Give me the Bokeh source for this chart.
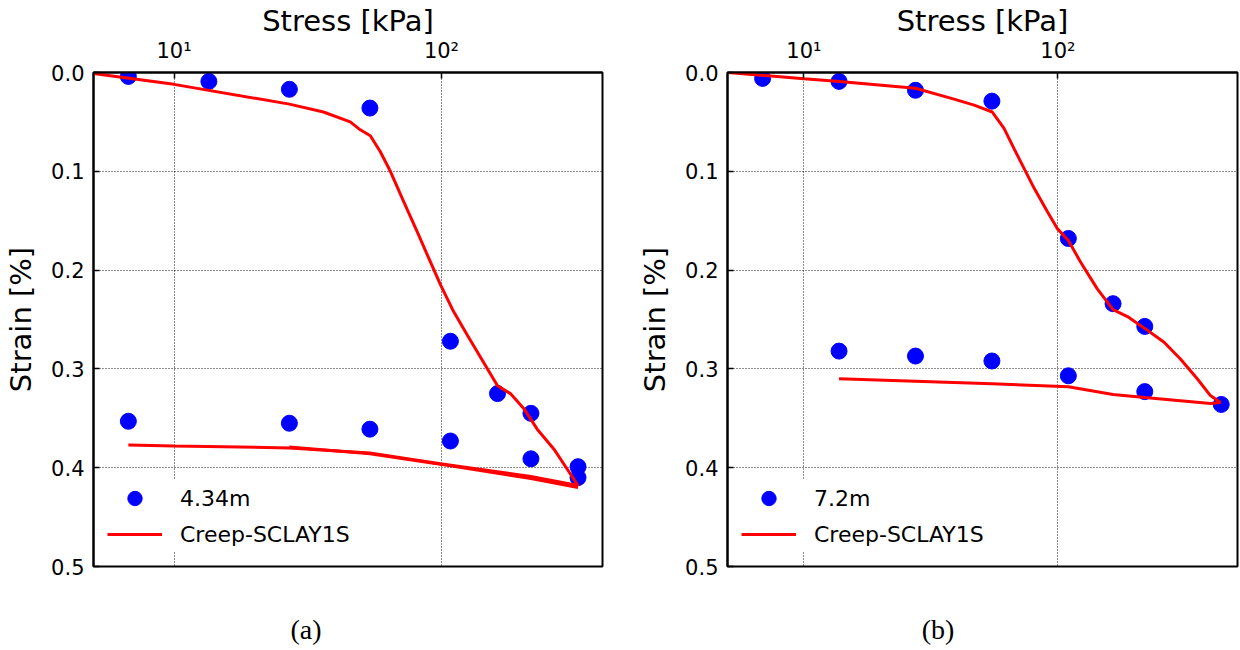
from bokeh.plotting import figure
from bokeh.models import Range1d, FixedTicker, PrintfTickFormatter, Div
from bokeh.layouts import row, column
from bokeh.embed import file_html
from bokeh.resources import INLINE

# ---------------- data: panel (a) 4.34 m ----------------
stress_a_load = [6.75, 13.5, 27, 54, 108, 162, 216, 324]
strain_a_load = [0.004, 0.009, 0.017, 0.036, 0.272, 0.325, 0.345, 0.410]
stress_a_unload = [324, 216, 108, 54, 27, 6.75]
strain_a_unload = [0.399, 0.391, 0.373, 0.361, 0.355, 0.353]

model_a_stress = [5.0, 10, 27, 36.2, 45.6, 49.7, 54.2, 59.0, 64.4, 72.3, 81.1, 91.0,
                  99.2, 111, 125, 162, 181, 203, 228, 263, 324,
                  216, 162, 99, 54, 27, 10, 6.75]
model_a_strain = [0.001, 0.012, 0.032, 0.040, 0.050, 0.058, 0.064, 0.080, 0.100, 0.131,
                  0.161, 0.192, 0.215, 0.242, 0.266, 0.317, 0.325, 0.340, 0.361, 0.381,
                  0.418, 0.409, 0.404, 0.396, 0.385, 0.380, 0.378, 0.377]
model_a2_stress = [27, 54, 108, 216, 324]
model_a2_strain = [0.379, 0.386, 0.398, 0.411, 0.420]

# ---------------- data: panel (b) 7.2 m ----------------
stress_b_load = [6.875, 13.75, 27.5, 55, 110, 165, 220, 440]
strain_b_load = [0.006, 0.009, 0.018, 0.029, 0.168, 0.234, 0.257, 0.336]
stress_b_unload = [220, 110, 55, 27.5, 13.75]
strain_b_unload = [0.323, 0.307, 0.292, 0.287, 0.282]

model_b_stress = [5.0, 10, 13.8, 27.5, 39, 46.8, 55.2, 61.4, 67.2, 73.6, 80.6, 91.0,
                  99.5, 110, 123, 143, 165, 188, 220, 262, 304, 354, 399, 437,
                  399, 220, 165, 110, 55, 27.5, 13.75]
model_b_strain = [0.000, 0.0064, 0.009, 0.016, 0.027, 0.033, 0.040, 0.0565, 0.077, 0.097,
                  0.117, 0.141, 0.158, 0.170, 0.192, 0.219, 0.240, 0.247, 0.259, 0.273,
                  0.290, 0.310, 0.327, 0.334,
                  0.335, 0.329, 0.326, 0.318, 0.315, 0.3125, 0.310]

x_ticks = [10, 100]
x_tick_labels = {10: "10\u00b9", 100: "10\u00b2"}
y_ticks = [0.0, 0.1, 0.2, 0.3, 0.4, 0.5]

FONT = "DejaVu Sans"


def make_panel(width, min_left, min_right, x_end, depth_label,
               load_x, load_y, unload_x, unload_y, model_x, model_y,
               extra_x=None, extra_y=None):
    p = figure(width=width, height=616, x_axis_type="log", x_axis_location="above",
               x_range=Range1d(5, x_end), y_range=Range1d(0.5, 0.0),
               output_backend="svg", toolbar_location=None,
               min_border_left=min_left, min_border_right=min_right,
               min_border_top=71, min_border_bottom=50,
               background_fill_color="white", border_fill_color="white")
    p.outline_line_color = "black"
    p.outline_line_width = 2
    p.outline_line_alpha = 1

    for ax in (p.xaxis[0], p.yaxis[0]):
        ax.axis_line_color = "black"
        ax.axis_line_width = 2
        ax.major_tick_in = 6
        ax.major_tick_out = 0
        ax.major_tick_line_color = "black"
        ax.major_tick_line_width = 1.5
        ax.minor_tick_line_color = None
        ax.major_label_text_font = FONT
        ax.major_label_text_font_size = "21px"
        ax.major_label_text_color = "black"
        ax.axis_label_text_font = FONT
        ax.axis_label_text_font_size = "29px"
        ax.axis_label_text_font_style = "normal"
        ax.axis_label_text_color = "black"

    p.xaxis.ticker = FixedTicker(ticks=x_ticks)
    p.xaxis.major_label_overrides = x_tick_labels
    p.xaxis.axis_label = "Stress [kPa]"
    p.xaxis.major_label_standoff = 10
    p.xaxis.axis_label_standoff = -2

    p.yaxis.ticker = FixedTicker(ticks=y_ticks)
    p.yaxis.formatter = PrintfTickFormatter(format="%.1f")
    p.yaxis.axis_label = "Strain [%]"
    p.yaxis.major_label_standoff = 9
    p.yaxis.axis_label_standoff = 10

    p.xgrid.ticker = FixedTicker(ticks=x_ticks)
    p.ygrid.ticker = FixedTicker(ticks=y_ticks)
    for g in (p.xgrid[0], p.ygrid[0]):
        g.grid_line_color = "black"
        g.grid_line_dash = "1 2"
        g.grid_line_width = 1
        g.grid_line_alpha = 0.9

    p.scatter(load_x + unload_x, load_y + unload_y, size=16, marker="circle",
              fill_color="#0000ff", line_color="#0000ff", legend_label=depth_label)
    p.line(model_x, model_y, line_color="#ff0000", line_width=3,
           legend_label="Creep-SCLAY1S")
    if extra_x is not None:
        p.line(extra_x, extra_y, line_color="#ff0000", line_width=3)

    lg = p.legend[0]
    lg.location = "bottom_left"
    lg.margin = 14
    lg.padding = 14
    lg.spacing = 0
    lg.glyph_width = 55
    lg.glyph_height = 36
    lg.label_height = 26
    lg.label_standoff = 18
    lg.label_text_font = FONT
    lg.label_text_font_size = "22px"
    lg.label_text_color = "black"
    lg.border_line_color = None
    lg.background_fill_color = "white"
    lg.background_fill_alpha = 1.0
    return p


def caption(text, shift):
    html = ('<div style="width:620px;text-align:center;position:relative;left:%dpx;'
            'font-family:\'Liberation Serif\',serif;font-size:28px;line-height:28px;'
            'color:black;">%s</div>' % (shift, text))
    return Div(text=html, width=620, height=34, margin=0)


pa = make_panel(620, 93, 18, 400, "4.34m",
                stress_a_load, strain_a_load, stress_a_unload, strain_a_unload,
                model_a_stress, model_a_strain, model_a2_stress, model_a2_strain)
pb = make_panel(620, 107, 3, 510, "7.2m",
                stress_b_load, strain_b_load, stress_b_unload, strain_b_unload,
                model_b_stress, model_b_strain)

layout = column(row(pa, pb), row(caption("(a)", -4), caption("(b)", 8)))
open("out.html", "w").write(file_html(layout, INLINE))
